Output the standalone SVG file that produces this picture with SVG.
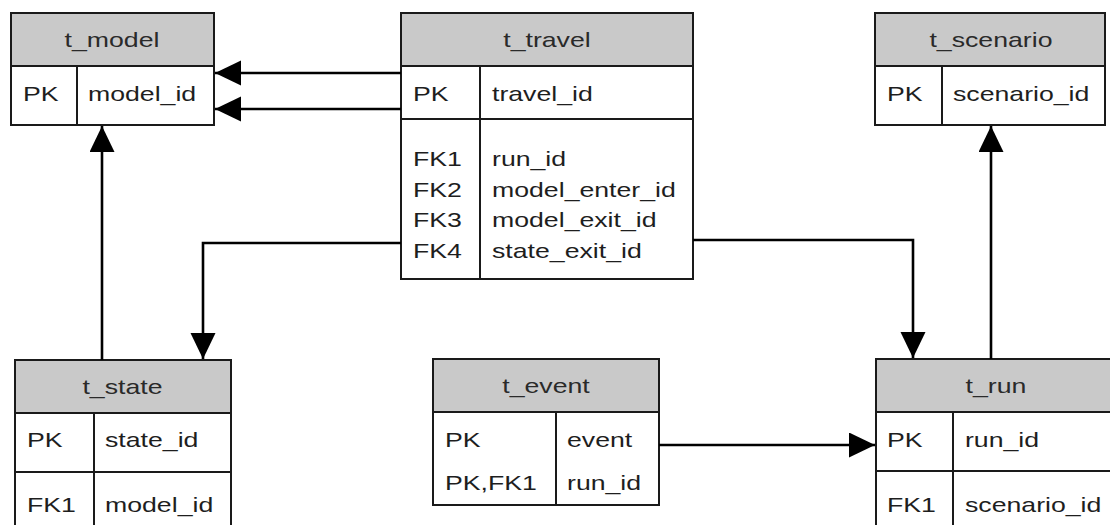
<svg xmlns="http://www.w3.org/2000/svg" width="1110" height="525" viewBox="0 0 1110 525">
<style>
.box{fill:#fff;stroke:#1a1a1a;stroke-width:2}
.hdr{fill:#c9c9c9;stroke:#1a1a1a;stroke-width:2}
.ln{stroke:#1a1a1a;stroke-width:2}
.t{font-family:"Liberation Sans",Arial,sans-serif;font-size:21px;fill:#1e1e1e}
.h{font-family:"Liberation Sans",Arial,sans-serif;font-size:21px;fill:#2a2a2a;text-anchor:middle}
.c{fill:none;stroke:#000;stroke-width:2.6}
</style>
<defs>
<marker id="ah" markerUnits="userSpaceOnUse" markerWidth="28" markerHeight="26" refX="26" refY="12.5" orient="auto">
<path d="M0,0 L26,12.5 L0,25 Z" fill="#000"/>
</marker>
</defs>
<rect width="1110" height="525" fill="#fff"/>

<g id="t_model">
<rect class="box" x="11" y="13" width="203" height="112"/>
<rect class="hdr" x="11" y="13" width="203" height="53"/>
<line class="ln" x1="77" y1="66" x2="77" y2="125"/>
<g transform="scale(1.27 1)">
<text class="h" x="88.19" y="47">t_model</text>
<text class="t" x="18.11" y="101.5">PK</text>
<text class="t" x="69.29" y="101.5">model_id</text>
</g>
</g>

<g id="t_travel">
<rect class="box" x="401" y="13" width="292" height="266"/>
<rect class="hdr" x="401" y="13" width="292" height="53"/>
<line class="ln" x1="401" y1="119" x2="693" y2="119"/>
<line class="ln" x1="480" y1="66" x2="480" y2="279"/>
<g transform="scale(1.27 1)">
<text class="h" x="430.71" y="47">t_travel</text>
<text class="t" x="325.20" y="101.5">PK</text>
<text class="t" x="387.40" y="101.5">travel_id</text>
<text class="t" x="325.20" y="166">FK1</text>
<text class="t" x="387.40" y="166">run_id</text>
<text class="t" x="325.20" y="197">FK2</text>
<text class="t" x="387.40" y="197">model_enter_id</text>
<text class="t" x="325.20" y="227.5">FK3</text>
<text class="t" x="387.40" y="227.5">model_exit_id</text>
<text class="t" x="325.20" y="258">FK4</text>
<text class="t" x="387.40" y="258">state_exit_id</text>
</g>
</g>

<g id="t_scenario">
<rect class="box" x="875" y="13" width="230" height="112"/>
<rect class="hdr" x="875" y="13" width="230" height="53"/>
<line class="ln" x1="942" y1="66" x2="942" y2="125"/>
<g transform="scale(1.27 1)">
<text class="h" x="780.3" y="47">t_scenario</text>
<text class="t" x="698.43" y="101">PK</text>
<text class="t" x="750.39" y="101">scenario_id</text>
</g>
</g>

<g id="t_state">
<rect class="box" x="15" y="360" width="216" height="175"/>
<rect class="hdr" x="15" y="360" width="216" height="53"/>
<line class="ln" x1="15" y1="472" x2="231" y2="472"/>
<line class="ln" x1="94" y1="413" x2="94" y2="535"/>
<g transform="scale(1.27 1)">
<text class="h" x="96.46" y="394">t_state</text>
<text class="t" x="21.26" y="447">PK</text>
<text class="t" x="82.68" y="447">state_id</text>
<text class="t" x="21.26" y="512">FK1</text>
<text class="t" x="82.68" y="512">model_id</text>
</g>
</g>

<g id="t_event">
<rect class="box" x="433" y="359" width="226" height="146"/>
<rect class="hdr" x="433" y="359" width="226" height="53"/>
<line class="ln" x1="556" y1="412" x2="556" y2="505"/>
<g transform="scale(1.27 1)">
<text class="h" x="429.92" y="393">t_event</text>
<text class="t" x="350.39" y="447">PK</text>
<text class="t" x="446.46" y="447">event</text>
<text class="t" x="350.39" y="490">PK,FK1</text>
<text class="t" x="446.46" y="490">run_id</text>
</g>
</g>

<g id="t_run">
<rect class="box" x="876" y="359" width="240" height="176"/>
<rect class="hdr" x="876" y="359" width="240" height="53"/>
<line class="ln" x1="876" y1="471" x2="1116" y2="471"/>
<line class="ln" x1="953" y1="412" x2="953" y2="535"/>
<g transform="scale(1.27 1)">
<text class="h" x="784.25" y="393">t_run</text>
<text class="t" x="698.43" y="447">PK</text>
<text class="t" x="759.84" y="447">run_id</text>
<text class="t" x="698.43" y="512">FK1</text>
<text class="t" x="759.84" y="512">scenario_id</text>
</g>
</g>

<g id="connectors">
<path class="c" d="M401,73 L215,73" marker-end="url(#ah)"/>
<path class="c" d="M401,109 L215,109" marker-end="url(#ah)"/>
<path class="c" d="M102,360 L102,126" marker-end="url(#ah)"/>
<path class="c" d="M401,243 L203,243 L203,359" marker-end="url(#ah)"/>
<path class="c" d="M693,240 L913,240 L913,358" marker-end="url(#ah)"/>
<path class="c" d="M991,359 L991,126" marker-end="url(#ah)"/>
<path class="c" d="M659,445 L875,445" marker-end="url(#ah)"/>
</g>
</svg>
